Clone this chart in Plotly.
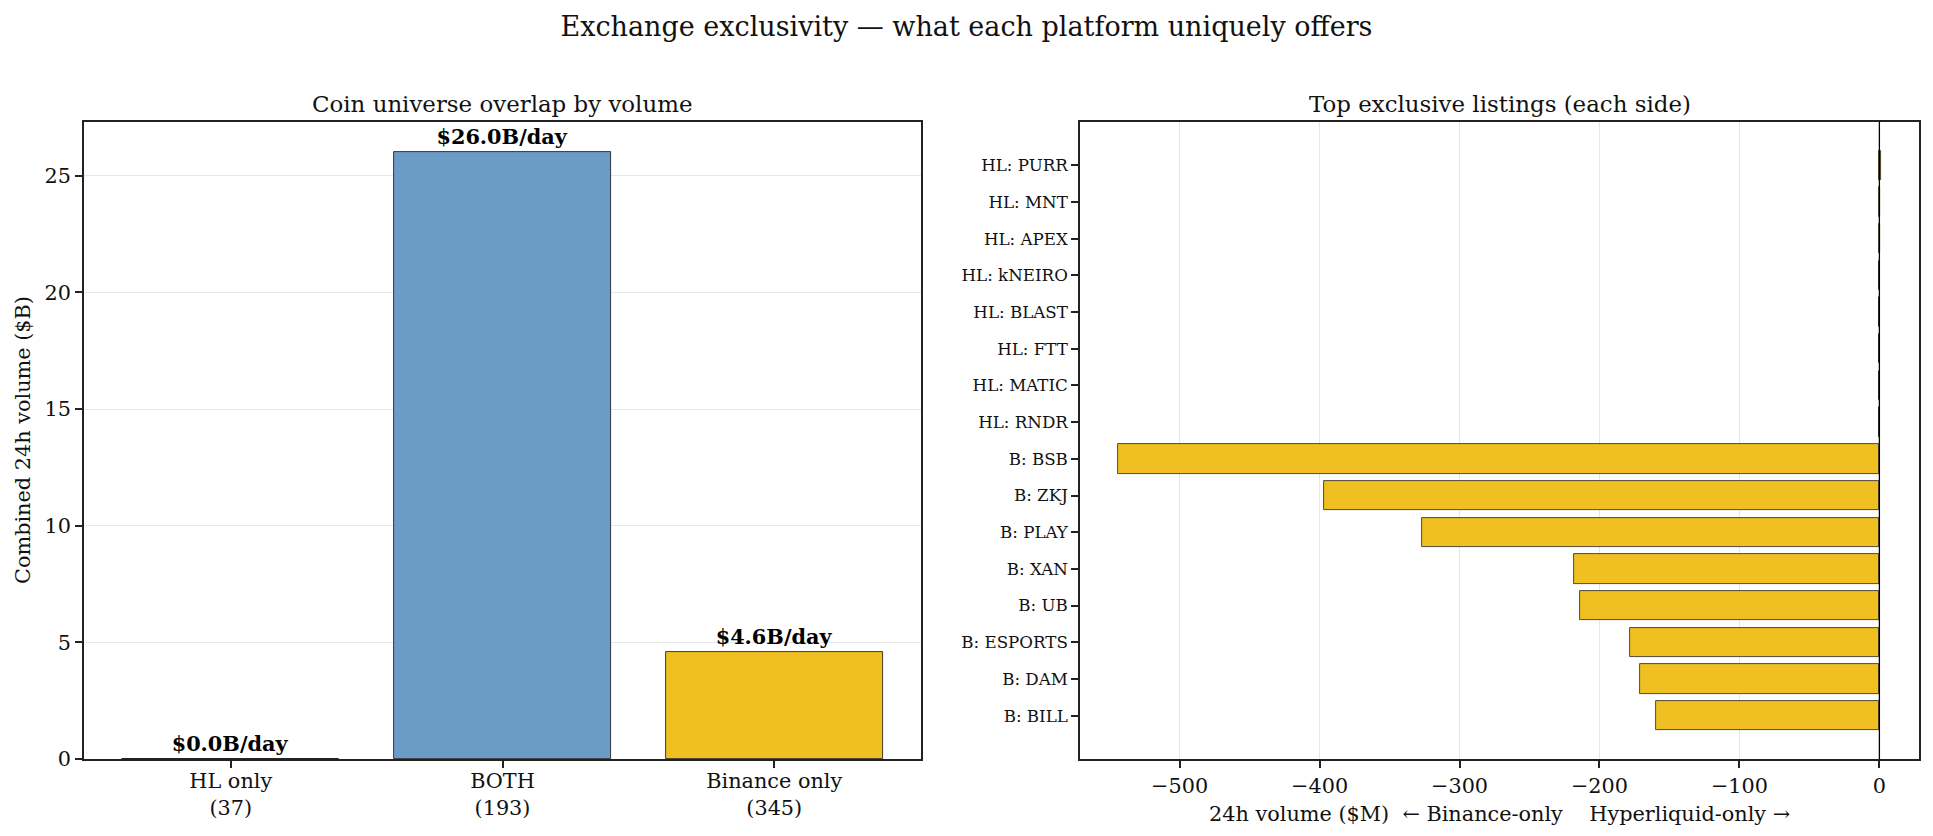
import plotly.graph_objects as go

# ---- data ----
overlap_categories = ["HL only<br>(37)", "BOTH<br>(193)", "Binance only<br>(345)"]
overlap_volume_b = [0.01, 26.0, 4.58]
overlap_labels = ["$0.0B/day", "$26.0B/day", "$4.6B/day"]

listing_names = ["B: BILL", "B: DAM", "B: ESPORTS", "B: UB", "B: XAN", "B: PLAY", "B: ZKJ", "B: BSB",
                 "HL: RNDR", "HL: MATIC", "HL: FTT", "HL: BLAST", "HL: kNEIRO", "HL: APEX", "HL: MNT", "HL: PURR"]
listing_volume_m = [-159.5, -170.8, -178.0, -213.9, -217.9, -326.7, -397.2, -543.9,
                    0.05, 0.05, 0.05, 0.05, 0.05, 0.08, 0.1, 1.5]

left_ticks = [0, 5, 10, 15, 20, 25]
right_ticks = [-500, -400, -300, -200, -100, 0]
right_tick_text = ["\u2212500", "\u2212400", "\u2212300", "\u2212200", "\u2212100", "0"]

BLUE = "#6b9bc7"
GOLD = "#f0c022"
FONT = "DejaVu Serif"
W, H = 1933, 836

def px_x(p):
    return p / W

def px_y(p):
    return 1 - p / H

fig = go.Figure()

fig.add_trace(go.Bar(
    x=[0, 1, 2], y=overlap_volume_b,
    marker=dict(color=["#ffffff", BLUE, GOLD], line=dict(color="#111", width=0.8)),
    width=0.8,
    text=["<b>%s</b>" % t for t in overlap_labels],
    textposition="outside", cliponaxis=False,
    textfont=dict(family=FONT, size=20.8, color="black"),
    xaxis="x", yaxis="y", showlegend=False,
))

fig.add_trace(go.Bar(
    x=listing_volume_m, y=list(range(len(listing_names))), orientation="h",
    marker=dict(color=GOLD, line=dict(color="#222", width=0.8)),
    width=0.8,
    xaxis="x2", yaxis="y2", showlegend=False,
))

def axis_common(size=20.8):
    return dict(
        showline=True, linecolor="#222", linewidth=1.6, mirror=True,
        ticks="outside", ticklen=7, tickwidth=1.6, tickcolor="#222",
        tickfont=dict(family=FONT, size=size, color="#111"),
        zeroline=False, automargin=False,
    )

LX0, LX1 = 84, 921
RX0, RX1 = 1080, 1919
Y0, Y1 = 122, 759

fig.update_layout(
    width=W, height=H,
    margin=dict(l=0, r=0, t=0, b=0),
    paper_bgcolor="white", plot_bgcolor="white",
    font=dict(family=FONT, color="#111"),
    bargap=0,
    xaxis=dict(
        domain=[px_x(LX0), px_x(LX1)], anchor="y",
        range=[-0.54, 2.54], tickvals=[0, 1, 2], ticktext=overlap_categories,
        showgrid=False, ticklabelstandoff=-5, **axis_common(),
    ),
    yaxis=dict(
        domain=[px_y(Y1), px_y(Y0)], anchor="x",
        range=[0, 27.3], tickvals=left_ticks,
        showgrid=True, gridcolor="#e6e6e6", gridwidth=1.4,
        **axis_common(),
    ),
    xaxis2=dict(
        domain=[px_x(RX0), px_x(RX1)], anchor="y2",
        range=[-571.2, 28.3], tickvals=right_ticks, ticktext=right_tick_text,
        showgrid=True, gridcolor="#e6e6e6", gridwidth=1.4,
        **axis_common(),
    ),
    yaxis2=dict(
        domain=[px_y(Y1), px_y(Y0)], anchor="x2",
        range=[-1.18, 16.18], tickvals=list(range(len(listing_names))), ticktext=listing_names,
        showgrid=False, **axis_common(16.7),
    ),
    title=dict(text="Exchange exclusivity \u2014 what each platform uniquely offers",
               x=0.5, xanchor="center", y=px_y(27), yanchor="middle",
               font=dict(family=FONT, size=27, color="#111")),
    annotations=[
        dict(text="Coin universe overlap by volume", xref="paper", yref="paper",
             x=(px_x(LX0) + px_x(LX1)) / 2, y=px_y(104), xanchor="center", yanchor="middle",
             showarrow=False, font=dict(family=FONT, size=22.9, color="#111")),
        dict(text="Top exclusive listings (each side)", xref="paper", yref="paper",
             x=(px_x(RX0) + px_x(RX1)) / 2, y=px_y(104), xanchor="center", yanchor="middle",
             showarrow=False, font=dict(family=FONT, size=22.9, color="#111")),
        dict(text="Combined 24h volume ($B)", xref="paper", yref="paper",
             x=px_x(23), y=px_y(440), xanchor="center", yanchor="middle", textangle=-90,
             showarrow=False, font=dict(family=FONT, size=20.8, color="#111")),
        dict(text="24h volume ($M)  \u2190 Binance-only    Hyperliquid-only \u2192", xref="paper", yref="paper",
             x=(px_x(RX0) + px_x(RX1)) / 2, y=px_y(814), xanchor="center", yanchor="middle",
             showarrow=False, font=dict(family=FONT, size=20.8, color="#111")),
    ],
    shapes=[
        dict(type="line", xref="x2", yref="y2 domain", x0=0, x1=0, y0=0, y1=1,
             line=dict(color="black", width=1.3)),
    ],
)

fig.write_html("out.html")
